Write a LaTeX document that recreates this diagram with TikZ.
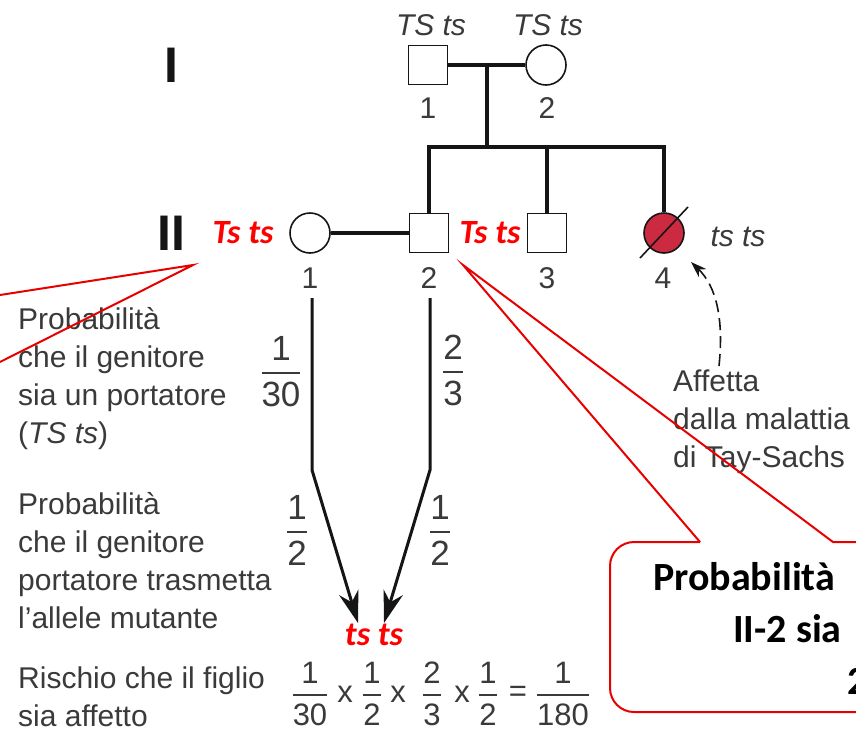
\documentclass[tikz,border=0pt]{standalone}
\usepackage{fontspec}
\setmainfont{Liberation Sans}
\newfontfamily\calibfont{Carlito}
\usetikzlibrary{arrows.meta,calc}
\definecolor{txtgray}{HTML}{3A3A3A}
\definecolor{pedline}{HTML}{151515}
\definecolor{pedred}{HTML}{CC2A40}
\definecolor{alertred}{HTML}{FF0000}
\definecolor{boxred}{HTML}{E60000}
\setlength{\arrayrulewidth}{2pt}
\newcommand\fr[2]{\begin{tabular}{@{}c@{}}#1\\\hline\rule{0pt}{0.95em}#2\end{tabular}}
\begin{document}
\begin{tikzpicture}[x=1pt,y=-1pt,
  male/.style={draw=pedline, fill=white, minimum size=39pt, inner sep=0pt, line width=1.6pt},
  female/.style={circle, draw=pedline, fill=white, minimum size=40pt, inner sep=0pt, line width=1.6pt},
  pline/.style={draw=pedline, line width=3.2pt},
  num/.style={text=txtgray, font=\fontsize{30}{36}\selectfont, inner sep=0pt, anchor=base},
  geno/.style={text=txtgray, font=\fontsize{30}{36}\selectfont\itshape, inner sep=0pt, anchor=base},
  redgeno/.style={text=alertred, font=\calibfont\fontsize{34}{40}\selectfont\bfseries\itshape, inner sep=0pt, anchor=base},
  desc/.style={text=txtgray, font=\fontsize{30}{38}\selectfont, align=left, inner sep=0pt, anchor=north west},
  gen/.style={text=pedline, font=\fontsize{50}{50}\selectfont\bfseries, inner sep=0pt},
  bigfr/.style={text=txtgray, font=\fontsize{35}{38}\selectfont, inner sep=0pt},
  smfr/.style={text=txtgray, font=\fontsize{31}{34}\selectfont, inner sep=0pt},
  op/.style={text=txtgray, font=\fontsize{31}{34}\selectfont, inner sep=0pt},
  callline/.style={draw=boxred, line width=2pt},
  calltext/.style={font=\calibfont\fontsize{40}{48}\selectfont\bfseries, inner sep=0pt, anchor=base west},
  bigarrow/.style={draw=pedline, line width=3pt, -{Stealth[length=32pt,width=20pt]}}
]
\useasboundingbox (0,0) rectangle (856,734);
\clip (0,0) rectangle (856,734);

% generation labels
\node[gen] (gI) at (171,65) {I};
\node[gen] (gII) at (171,233) {II};

% generation I
\node[male] (i1) at (428,65) {};
\node[female] (i2) at (546,65) {};
\coordinate (m1) at (487,65);
\coordinate (s1) at (487,147);
\draw[pline] (i1.east) -- (i2.west);
\draw[pline] (m1) -- (s1);
\node[geno] (gi1) at (431,35) {TS ts};
\node[geno] (gi2) at (548,35) {TS ts};
\node[num] (ni1) at (428,118) {1};
\node[num] (ni2) at (547,118) {2};

% generation II
\node[female] (ii1) at (310,233) {};
\node[male] (ii2) at (429,233) {};
\node[male] (ii3) at (547,233) {};
\node[female, fill=pedred] (ii4) at (664,233) {};
\draw[line width=1.6pt, draw=pedline] ($(ii4)+(-24,25)$) -- ($(ii4)+(24,-26)$);
\draw[pline] (ii1.east) -- (ii2.west);
\draw[pline] (ii2.north) |- (s1) -| (ii4.north);
\draw[pline] (ii3.north) -- (ii3.north |- s1);
\node[num] (nii1) at (310,288) {1};
\node[num] (nii2) at (429,288) {2};
\node[num] (nii3) at (547,288) {3};
\node[num] (nii4) at (663,288) {4};
\node[geno] (gii4) at (738,246) {ts ts};
\node[redgeno] (rg1) at (243,243) {Ts ts};
\node[redgeno] (rg2) at (490,243) {Ts ts};

% descriptions
\node[desc] (t1) at (18,307) {Probabilità\\che il genitore\\sia un portatore\\(\textit{TS ts})};
\node[desc] (t2) at (18,492) {Probabilità\\che il genitore\\portatore trasmetta\\l’allele mutante};
\node[desc] (t3) at (18,667) {Rischio che il figlio\\sia affetto};
\node[desc] (t4) at (673,370) {Affetta\\dalla malattia\\di Tay-Sachs};

% fractions along the arrows
\node[bigfr] (f1) at (281,376) {\fr{1}{30}};
\node[bigfr] (f2) at (453,375) {\fr{2}{3}};
\node[bigfr] (f3) at (297,535) {\fr{1}{2}};
\node[bigfr] (f4) at (440,535) {\fr{1}{2}};

% arrows
\coordinate (a1s) at (312,298);
\coordinate (a1k) at (312,470);
\coordinate (a1e) at (358,623);
\coordinate (a2s) at (430,298);
\coordinate (a2k) at (430,470);
\coordinate (a2e) at (384,623);
\draw[bigarrow] (a1s) -- (a1k) -- (a1e);
\draw[bigarrow] (a2s) -- (a2k) -- (a2e);
\node[redgeno] (rg3) at (374,645) {ts ts};

% final product
\node[smfr] (p1) at (310,698) {\fr{1}{30}};
\node[op] (x1) at (345,694) {x};
\node[smfr] (p2) at (372,698) {\fr{1}{2}};
\node[op] (x2) at (398,694) {x};
\node[smfr] (p3) at (432,698) {\fr{2}{3}};
\node[op] (x3) at (462,694) {x};
\node[smfr] (p4) at (488,698) {\fr{1}{2}};
\node[op] (eq) at (518,694) {=};
\node[smfr] (p5) at (563,698) {\fr{1}{180}};

% dashed arrow to II-4
\draw[draw=pedline, line width=1.6pt, dash pattern=on 12pt off 6pt, -{Stealth[length=16pt,width=11pt]}]
  (t4.north west) ++(46,-4) coordinate (d0) .. controls (724,318) and (716,286) .. (691,262);

% left callout pointer
\coordinate (lt) at (193,265);
\coordinate (la) at (0,295);
\coordinate (lb) at (0,362);
\draw[callline, line join=miter] (la) -- (lt) -- (lb);

% right callout
\coordinate (rt) at (463,265);
\coordinate (rb1) at (700,542);
\coordinate (rb2) at (833,542);
\coordinate (rbr) at (900,542);
\coordinate (rbl) at (610,542);
\coordinate (rbb) at (610,712);
\coordinate (rbe) at (900,712);
\draw[callline, line join=miter] (rbr) -- (rb2) -- (rt) -- (rb1);
\draw[callline, rounded corners=24pt] (rb1) -- (rbl) -- (rbb) -- (rbe);
\node[calltext] (c1) at (653,590) {Probabilità};
\node[calltext] (c2) at (733,642) {II-2 sia};
\node[calltext] (c3) at (847,694) {2};
\end{tikzpicture}
\end{document}
